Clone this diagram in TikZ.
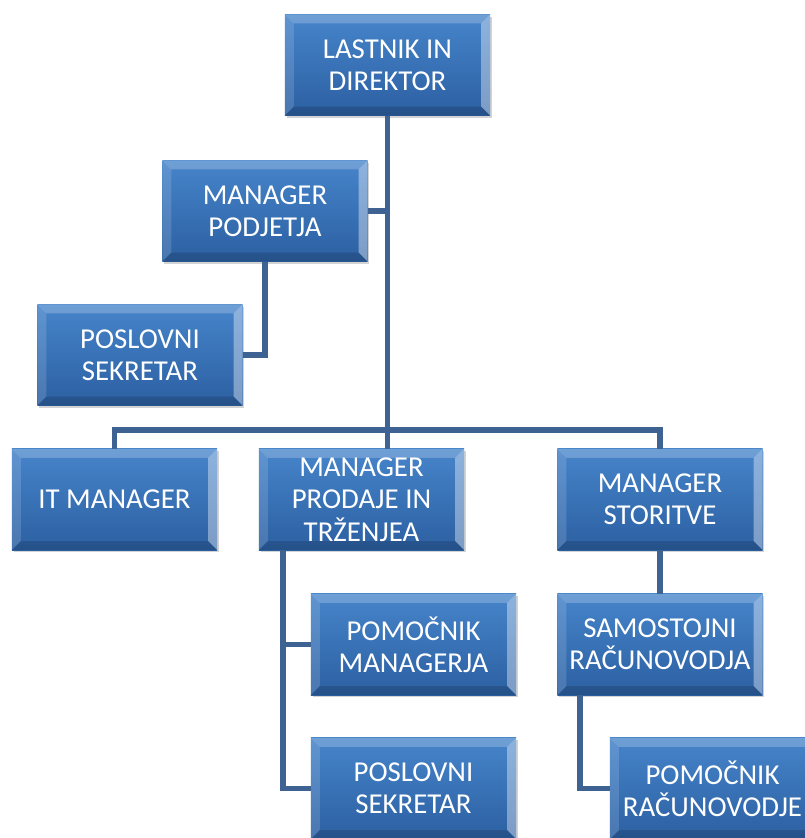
\documentclass[tikz,border=0pt]{standalone}
\usepackage{fontspec}
\setmainfont{Carlito}
\usetikzlibrary{shadows}
\definecolor{orgtop}{RGB}{70,132,202}
\definecolor{orgbot}{RGB}{44,96,162}
\definecolor{orgline}{RGB}{62,98,146}
\tikzset{
  obox/.style={rectangle, minimum width=5.125cm, minimum height=2.525cm, inner sep=2pt,
    top color=orgtop, bottom color=orgbot, text=white, align=center,
    font=\fontsize{20.5}{23}\selectfont,
    drop shadow={opacity=0.35, shadow xshift=0.04cm, shadow yshift=-0.06cm},
    path picture={
      \fill[white,opacity=0.22] (path picture bounding box.north west) -- (path picture bounding box.north east)
        -- ([shift={(-0.22cm,-0.22cm)}]path picture bounding box.north east) -- ([shift={(0.22cm,-0.22cm)}]path picture bounding box.north west) -- cycle;
      \fill[white,opacity=0.14] (path picture bounding box.north west) -- ([shift={(0.22cm,-0.22cm)}]path picture bounding box.north west)
        -- ([shift={(0.22cm,0.22cm)}]path picture bounding box.south west) -- (path picture bounding box.south west) -- cycle;
      \fill[white,opacity=0.38] (path picture bounding box.north east) -- ([shift={(-0.22cm,-0.22cm)}]path picture bounding box.north east)
        -- ([shift={(-0.22cm,0.22cm)}]path picture bounding box.south east) -- (path picture bounding box.south east) -- cycle;
      \fill[black,opacity=0.15] (path picture bounding box.south west) -- ([shift={(0.22cm,0.22cm)}]path picture bounding box.south west)
        -- ([shift={(-0.22cm,0.22cm)}]path picture bounding box.south east) -- (path picture bounding box.south east) -- cycle;
    }},
  olink/.style={line width=4pt, orgline}
}

\begin{document}
\begin{tikzpicture}[x=0.025cm, y=-0.025cm]
\useasboundingbox (0,0) rectangle (805,838);
\node[obox] (owner) at (387.5,65) {LASTNIK IN\\DIREKTOR};
\node[obox] (mgr) at (265,211) {MANAGER\\PODJETJA};
\node[obox] (sec1) at (140,355) {POSLOVNI\\SEKRETAR};
\node[obox] (itm) at (114.5,499.5) {IT MANAGER};
\node[obox] (sales) at (361.5,499.5) {MANAGER\\PRODAJE IN\\TRŽENJEA};
\node[obox] (serv) at (660,499.5) {MANAGER\\STORITVE};
\node[obox] (asst) at (413.5,644.5) {POMOČNIK\\MANAGERJA};
\node[obox] (acct) at (660,644.5) {SAMOSTOJNI\\RAČUNOVODJA};
\node[obox] (sec2) at (413.5,788.5) {POSLOVNI\\SEKRETAR};
\node[obox] (acas) at (712.5,788.5) {POMOČNIK\\RAČUNOVODJE};
\coordinate (hub) at (387.5,430);
% links
\draw[olink] (owner.south) -- (owner.south |- sales.north);
\draw[olink] (mgr.east) -- (mgr.east -| owner.south);
\draw[olink] (mgr.south) |- (sec1.east);
\draw[olink] (itm.north) -- (itm.north |- hub) -- (serv.north |- hub) -- (serv.north);
\draw[olink] ([xshift=0.6cm]sales.south west) |- (asst.west);
\draw[olink] ([xshift=0.6cm]sales.south west) |- (sec2.west);
\draw[olink] (serv.south) -- (acct.north);
\draw[olink] ([xshift=0.575cm]acct.south west) |- (acas.west);
\end{tikzpicture}
\end{document}
